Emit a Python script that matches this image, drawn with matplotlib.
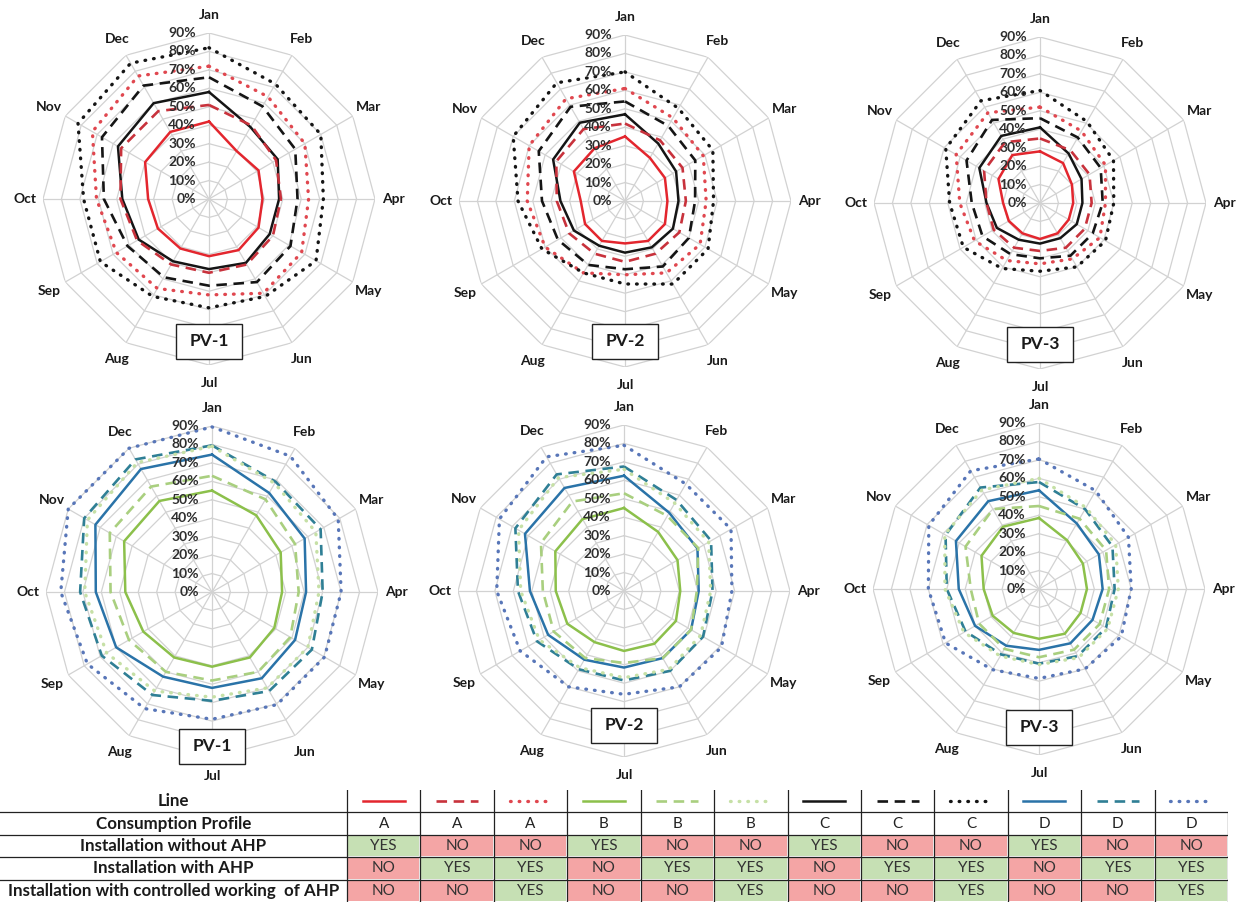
import numpy as np
import matplotlib.pyplot as plt
from matplotlib.patches import Rectangle
from matplotlib.transforms import offset_copy

plt.rcParams["font.family"] = ["Lato", "DejaVu Sans"]

months = ["Jan", "Feb", "Mar", "Apr", "May", "Jun",
          "Jul", "Aug", "Sep", "Oct", "Nov", "Dec"]
pct_levels = [0, 10, 20, 30, 40, 50, 60, 70, 80, 90]

# self-consumption share per month (%), profile A / C on PV-1..PV-3
pv1_a_plain = [42, 30, 31, 29, 31, 32, 31, 31, 32, 33, 40, 42]
pv1_a_ahp = [51, 46, 42, 39, 40, 41, 40, 41, 45, 48, 55, 55]
pv1_a_ctrl = [72, 64, 60, 54, 58, 59, 52, 56, 58, 61, 73, 77]
pv1_c_plain = [58, 45, 43, 38, 38, 40, 38, 39, 44, 47, 57, 60]
pv1_c_ahp = [66, 58, 54, 48, 51, 52, 47, 49, 51, 57, 67, 71]
pv1_c_ctrl = [82, 72, 70, 62, 67, 61, 59, 61, 68, 68, 82, 85]

pv2_a_plain = [35, 27, 25, 23, 25, 25, 23, 25, 25, 24, 32, 33]
pv2_a_ahp = [42, 38, 36, 33, 34, 33, 33, 33, 35, 37, 43, 45]
pv2_a_ctrl = [61, 52, 49, 44, 47, 45, 40, 45, 50, 53, 60, 64]
pv2_c_plain = [47, 36, 32, 29, 30, 29, 28, 28, 32, 35, 45, 49]
pv2_c_ahp = [54, 47, 44, 38, 40, 41, 37, 40, 42, 45, 54, 59]
pv2_c_ctrl = [70, 58, 55, 48, 52, 52, 45, 45, 52, 58, 70, 74]

pv3_a_plain = [28, 25, 20, 18, 18, 19, 19.5, 19, 19.5, 20, 26, 30]
pv3_a_ahp = [35, 33, 31, 28, 28, 28, 26, 28, 29, 29, 35, 38]
pv3_a_ctrl = [52, 45, 41, 35.5, 37.5, 35, 33, 36, 41, 43.5, 52.5, 56.5]
pv3_c_plain = [41, 31, 26, 23, 23, 22, 22, 23, 27, 29, 38, 42]
pv3_c_ahp = [46, 41, 38, 34, 33, 33, 30, 32, 36, 37, 46, 52]
pv3_c_ctrl = [61, 51, 46, 40, 41, 40, 37, 41, 48, 49, 59, 64]

# profile B / D on PV-1..PV-3
pv1_b_plain = [55, 48, 43, 38, 39, 41, 40.5, 41, 43, 47, 55, 57]
pv1_b_ahp = [63, 58, 52, 47, 49, 50, 48, 50, 52, 55, 64, 66]
pv1_b_ctrl = [79, 68, 65, 58, 60, 60, 57, 62, 66, 69, 78, 81]
pv1_d_plain = [74.5, 62, 58, 51, 52, 54, 52, 53, 60, 63, 73, 77]
pv1_d_ahp = [79.5, 69, 68, 60, 62.5, 62, 59, 64.5, 69, 71.5, 80, 83]
pv1_d_ctrl = [89.5, 85, 79, 70, 70.5, 70.5, 69, 73, 78, 82, 90, 90]

pv2_b_plain = [45, 37, 33.5, 30.5, 32.5, 33, 32.5, 32, 35.5, 37, 43, 45]
pv2_b_ahp = [53, 47, 46.5, 39.5, 42, 42, 39, 42, 44, 44, 52, 56]
pv2_b_ctrl = [66, 55, 53, 47, 48, 49, 47, 48, 53, 56, 66, 71]
pv2_d_plain = [62.5, 49, 46, 40.5, 42, 42, 41.5, 43, 47.5, 51, 62, 64.5]
pv2_d_ahp = [67.5, 57, 54.5, 48, 49.5, 50, 48.5, 49, 54.5, 57.5, 68, 73]
pv2_d_ctrl = [79, 67, 67, 58.5, 61, 60, 56, 60, 65, 69, 78, 84]

pv3_b_plain = [38.5, 30.5, 27.5, 26, 26, 28, 27, 27.5, 29, 30, 36, 39]
pv3_b_ahp = [45, 44, 42, 38, 38, 38, 37, 37.5, 37.5, 37, 46, 50]
pv3_b_ctrl = [60, 51, 48, 43, 43, 43, 41, 42, 47, 51, 59, 62]
pv3_d_plain = [53.5, 41, 37.5, 34.5, 33.5, 34, 33, 35.5, 40, 43.5, 52, 55]
pv3_d_ahp = [58, 50, 46, 41, 42, 42, 40.5, 41, 46, 50, 58.5, 63.5]
pv3_d_ctrl = [70.5, 61.5, 56, 50, 51.5, 50, 48.5, 50.5, 58.5, 60, 69, 74]

# legend table
table_rows = ["Line", "Consumption Profile", "Installation without AHP",
              "Installation with AHP",
              "Installation with controlled working  of AHP"]
table_profile = ["A", "A", "A", "B", "B", "B", "C", "C", "C", "D", "D", "D"]
table_without = ["YES", "NO", "NO"] * 4
table_with = ["NO", "YES", "YES"] * 4
table_ctrl = ["NO", "NO", "YES"] * 4

# line looks: colour per profile, dash per installation variant
colors = {
    "A": ["#e3262e", "#c8323c", "#e0474f"],
    "B": ["#8cc04b", "#a9cf7f", "#c6e0a6"],
    "C": ["#151515", "#151515", "#151515"],
    "D": ["#2a73a8", "#2f7f95", "#5876b8"],
}
dash_styles = [
    dict(linestyle="-", lw=1.8),
    dict(linestyle=(0, (4, 2.5)), lw=1.9),
    dict(linestyle=(0, (0.2, 2.4)), lw=2.4, dash_capstyle="round"),
]

W, H = 1241, 902
R = 166
panels = [
    ("PV-1", 209, 199, 341, [("A", pv1_a_plain, pv1_a_ahp, pv1_a_ctrl),
                             ("C", pv1_c_plain, pv1_c_ahp, pv1_c_ctrl)]),
    ("PV-2", 625, 201, 341, [("A", pv2_a_plain, pv2_a_ahp, pv2_a_ctrl),
                             ("C", pv2_c_plain, pv2_c_ahp, pv2_c_ctrl)]),
    ("PV-3", 1040, 203, 344, [("A", pv3_a_plain, pv3_a_ahp, pv3_a_ctrl),
                              ("C", pv3_c_plain, pv3_c_ahp, pv3_c_ctrl)]),
    ("PV-1", 212, 592, 746, [("B", pv1_b_plain, pv1_b_ahp, pv1_b_ctrl),
                             ("D", pv1_d_plain, pv1_d_ahp, pv1_d_ctrl)]),
    ("PV-2", 624, 591, 725, [("B", pv2_b_plain, pv2_b_ahp, pv2_b_ctrl),
                             ("D", pv2_d_plain, pv2_d_ahp, pv2_d_ctrl)]),
    ("PV-3", 1039, 589, 727, [("B", pv3_b_plain, pv3_b_ahp, pv3_b_ctrl),
                              ("D", pv3_d_plain, pv3_d_ahp, pv3_d_ctrl)]),
]

fig = plt.figure(figsize=(W / 100, H / 100), dpi=100)

theta = np.deg2rad(np.arange(12) * 30.0)
theta_closed = np.append(theta, theta[0])
grid_color = "#d2d2d2"

for name, cx, cy, box_y, series in panels:
    ax = fig.add_axes([(cx - R) / W, 1 - (cy + R) / H, 2 * R / W, 2 * R / H],
                      projection="polar")
    ax.set_theta_zero_location("N")
    ax.set_theta_direction(-1)
    ax.set_ylim(0, 90)
    ax.set_xticks([])
    ax.set_yticks([])
    ax.grid(False)
    ax.spines["polar"].set_visible(False)
    ax.patch.set_alpha(0)

    # polygon rings and spokes
    for lvl in pct_levels[1:]:
        ax.plot(theta_closed, [lvl] * 13, color=grid_color, lw=0.9, zorder=1)
    for t in theta:
        ax.plot([t, t], [0, 90], color=grid_color, lw=0.9, zorder=1)

    for profile, *variants in series:
        for k, vals in enumerate(variants):
            ax.plot(theta_closed, vals + vals[:1], color=colors[profile][k],
                    zorder=3 + k, clip_on=False, **dash_styles[k])

    lab_tr = offset_copy(ax.transData, fig=fig, x=-13, y=0, units="dots")
    for lvl in pct_levels:
        ax.text(0, lvl, f"{lvl}%", transform=lab_tr, ha="right", va="center",
                fontsize=10, fontweight="bold", color="#2e2e2e", zorder=10)
    for t, m in zip(theta, months):
        ax.text(t, 100, m, ha="center", va="center", fontsize=10,
                fontweight="bold", color="#1a1a1a", clip_on=False)

    bw, bh = 66, 35
    fig.add_artist(Rectangle(((cx - bw / 2) / W, 1 - (box_y + bh / 2) / H),
                             bw / W, bh / H, transform=fig.transFigure,
                             facecolor="white", edgecolor="#222222", lw=1.0,
                             zorder=20))
    fig.text(cx / W, 1 - box_y / H, name, ha="center", va="center",
             fontsize=12.5, fontweight="bold", color="#1a1a1a", zorder=21)

# legend table along the bottom
tab = fig.add_axes([0, 0, 1228 / W, 112 / H])
tab.set_xlim(0, 1228)
tab.set_ylim(5, 0)
tab.axis("off")
label_w = 347
col_w = (1228 - label_w) / 12
green_cell, red_cell = "#c6e0b4", "#f4a5a5"

for r, lab in enumerate(table_rows):
    tab.text(label_w / 2, r + 0.5, lab, ha="center", va="center",
             fontsize=12.2, fontweight="bold", color="#1a1a1a")

for j in range(12):
    x0 = label_w + j * col_w
    xc = x0 + col_w / 2
    profile = table_profile[j]
    k = j % 3
    tab.plot([xc - 21, xc + 21], [0.5, 0.5], color=colors[profile][k],
             **dash_styles[k])
    tab.text(xc, 1.5, profile, ha="center", va="center", fontsize=11,
             color="#222222")
    for r, vals in zip([2, 3, 4], [table_without, table_with, table_ctrl]):
        v = vals[j]
        tab.add_patch(Rectangle((x0 + 1, r + 0.04), col_w - 2, 0.92,
                                facecolor=green_cell if v == "YES" else red_cell,
                                edgecolor="none"))
        tab.text(xc, r + 0.5, v, ha="center", va="center", fontsize=11,
                 color="#333333")

for r in [1, 2, 3, 4]:
    tab.plot([0, 1228], [r, r], color="#222222", lw=0.9)
for j in range(13):
    x = label_w + j * col_w
    tab.plot([x, x], [0 if j < 12 else 1, 5], color="#222222", lw=0.9)

fig.savefig("out.png", dpi=100)
